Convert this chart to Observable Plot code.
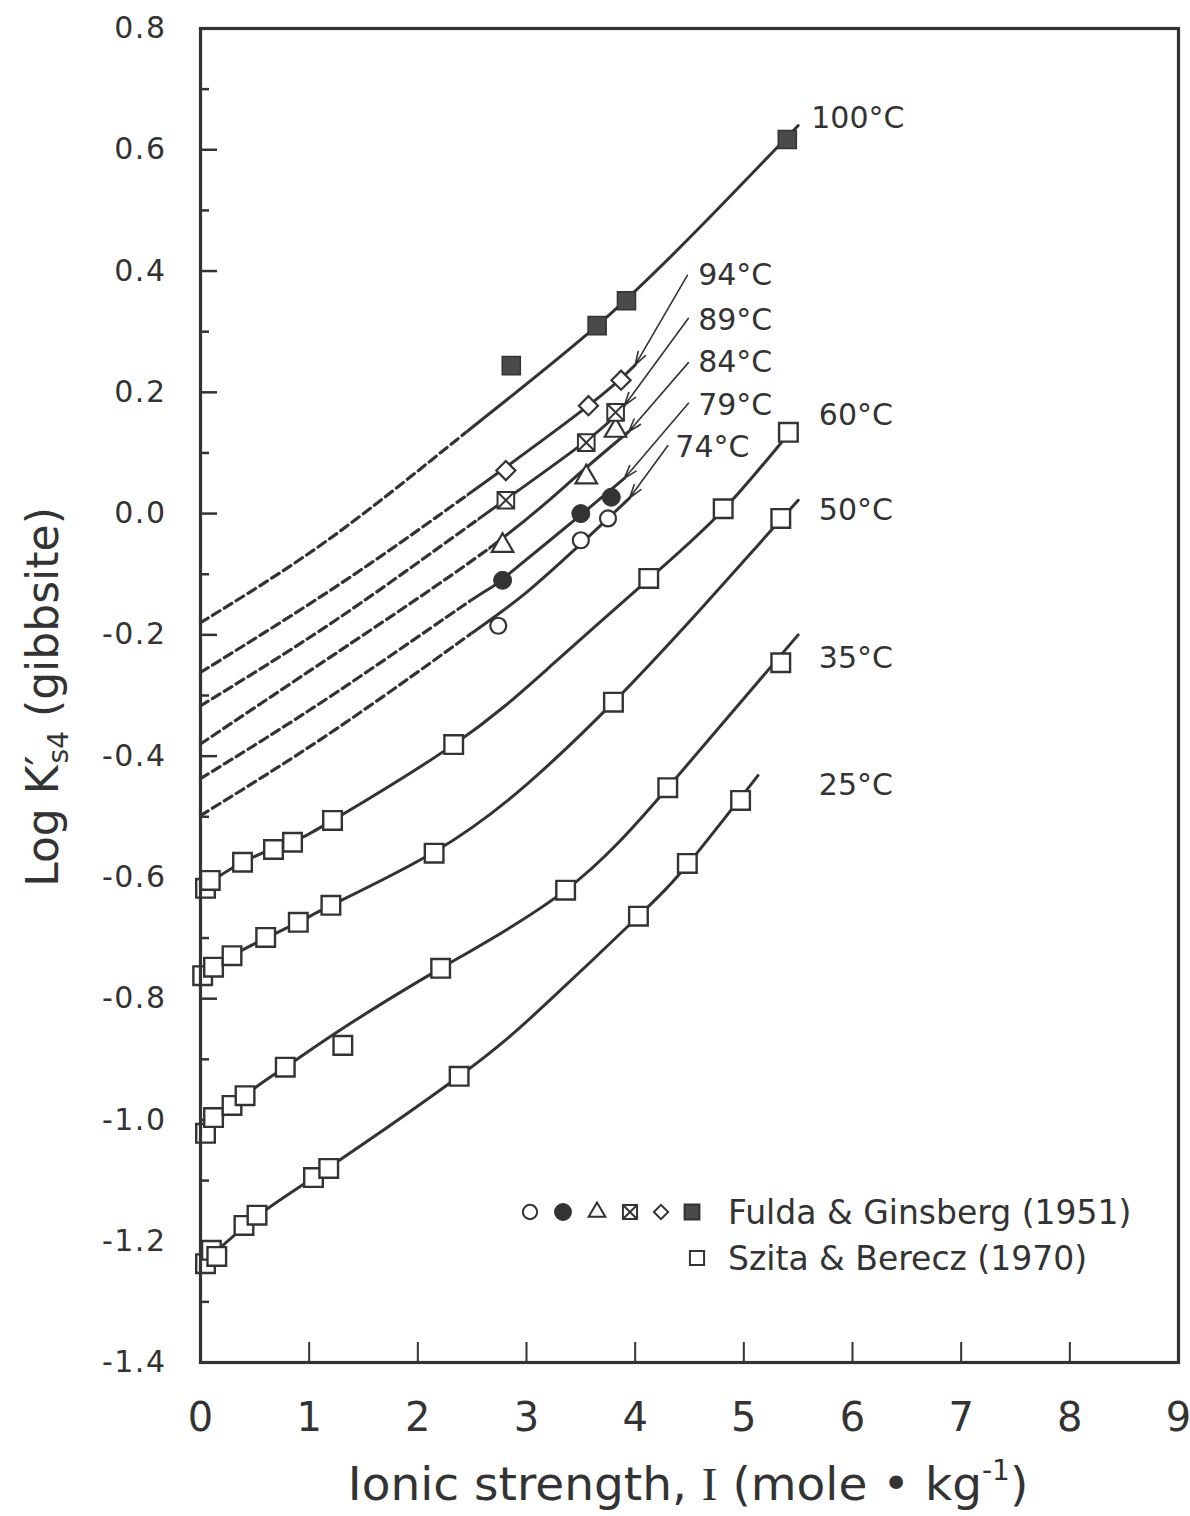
<!DOCTYPE html>
<html><head><meta charset="utf-8">
<script src="https://cdn.jsdelivr.net/npm/d3@7"></script>
<script src="https://cdn.jsdelivr.net/npm/@observablehq/plot@0.6"></script>
<style>html,body{margin:0;padding:0;background:#fff;} #chart svg{display:block;}</style>
</head><body><div id="chart"></div>
<script>
// ---------- DATA ----------
// Szita & Berecz (1970) — open squares
const sz25_I = [0.046, 0.10, 0.15, 0.40, 0.52, 1.04, 1.18, 2.38, 4.03, 4.48, 4.97];
const sz25_K = [-1.237, -1.215, -1.225, -1.174, -1.157, -1.095, -1.080, -0.928, -0.664, -0.577, -0.473];
const sz35_I = [0.046, 0.12, 0.29, 0.41, 0.78, 1.31, 2.21, 3.36, 4.30, 5.34];
const sz35_K = [-1.022, -0.996, -0.976, -0.960, -0.913, -0.877, -0.750, -0.621, -0.452, -0.246];
const sz50_I = [0.02, 0.12, 0.29, 0.60, 0.90, 1.20, 2.15, 3.80, 5.34];
const sz50_K = [-0.762, -0.748, -0.729, -0.699, -0.674, -0.646, -0.560, -0.311, -0.008];
const sz60_I = [0.046, 0.09, 0.387, 0.672, 0.847, 1.215, 2.33, 4.125, 4.81, 5.41];
const sz60_K = [-0.618, -0.605, -0.575, -0.554, -0.542, -0.506, -0.381, -0.107, 0.008, 0.134];

// Fulda & Ginsberg (1951)
const fg74_I = [2.74, 3.50, 3.75];        const fg74_K = [-0.185, -0.044, -0.008];
const fg79_I = [2.78, 3.50, 3.78];        const fg79_K = [-0.110, 0.000, 0.027];
const fg84_I = [2.78, 3.55, 3.82];        const fg84_K = [-0.053, 0.060, 0.137];
const fg89_I = [2.81, 3.55, 3.82];        const fg89_K = [0.022, 0.117, 0.167];
const fg94_I = [2.81, 3.57, 3.87];        const fg94_K = [0.071, 0.178, 0.220];
const fg100_I = [2.86, 3.65, 3.92, 5.40]; const fg100_K = [0.244, 0.310, 0.351, 0.617];

// Fitted curves (knots); split = end of dashed extrapolation
const c25_I = [0, 0.5, 1.1, 2.38, 3.2, 4.03, 4.5, 5.13];
const c25_K = [-1.24, -1.162, -1.088, -0.928, -0.805, -0.664, -0.575, -0.432];
const c35_I = [0, 0.41, 0.78, 1.3, 2.21, 3.36, 4.30, 5.50];
const c35_K = [-1.03, -0.96, -0.913, -0.85, -0.75, -0.621, -0.452, -0.20];
const c50_I = [0, 0.29, 0.9, 1.2, 2.15, 3.0, 3.8, 4.6, 5.50];
const c50_K = [-0.77, -0.729, -0.674, -0.646, -0.558, -0.447, -0.311, -0.158, 0.022];
const c60_I = [0, 0.387, 0.85, 1.215, 2.33, 3.2, 4.125, 4.81, 5.45];
const c60_K = [-0.62, -0.575, -0.54, -0.506, -0.381, -0.255, -0.108, 0.006, 0.14];
const c74_I = [0, 1.25, 2.49, 3.0, 3.5, 3.95];
const c74_K = [-0.498, -0.355, -0.198, -0.13, -0.05, 0.026];
const c79_I = [0, 1.25, 2.49, 2.78, 3.50, 3.90];
const c79_K = [-0.437, -0.295, -0.143, -0.108, -0.002, 0.058];
const c84_I = [0, 1.25, 2.65, 3.41, 3.94];
const c84_K = [-0.38, -0.23, -0.058, 0.054, 0.135];
const c89_I = [0, 1.25, 2.55, 3.55, 3.90];
const c89_K = [-0.317, -0.175, -0.01, 0.12, 0.178];
const c94_I = [0, 1.25, 2.45, 3.57, 4.0];
const c94_K = [-0.262, -0.12, 0.03, 0.178, 0.245];
const c100_I = [0, 1.2, 2.45, 3.65, 4.6, 5.50];
const c100_K = [-0.18, -0.04, 0.135, 0.31, 0.473, 0.64];
const splits = {"25": 0, "35": 0, "50": 0, "60": 0, "74": 2.49, "79": 2.49, "84": 2.65, "89": 2.55, "94": 2.45, "100": 2.45};

// Curve labels
const labelText = ["100°C", "94°C", "89°C", "84°C", "79°C", "74°C", "60°C", "50°C", "35°C", "25°C"];
const labelI = [5.62, 4.58, 4.58, 4.58, 4.58, 4.37, 5.69, 5.69, 5.69, 5.69];
const labelK = [0.652, 0.393, 0.318, 0.249, 0.178, 0.109, 0.162, 0.005, -0.239, -0.448];

// Leader arrows (from label to curve end)
const arrowTemp = ["94", "89", "84", "79", "74"];
const arrowFromI = [4.48, 4.49, 4.49, 4.49, 4.30];
const arrowFromK = [0.393, 0.322, 0.249, 0.182, 0.112];

// Axis ticks
const yMajor = [0.8, 0.6, 0.4, 0.2, 0, -0.2, -0.4, -0.6, -0.8, -1.0, -1.2, -1.4];
const yMinor = [0.7, 0.5, 0.3, 0.1, -0.1, -0.3, -0.5, -0.7, -0.9, -1.1, -1.3];
const xTickLabels = [0, 1, 2, 3, 4, 5, 6, 7, 8, 9];
const xTicks = [1, 2, 3, 4, 5, 6, 7, 8];

// ---------- BUILD ----------
const INK = "#333";
const pts = (I, K) => I.map((x, i) => ({I: x, K: K[i]}));
const crossedSquare = {
  draw(ctx, size) {
    const s = Math.sqrt(size) / 2;
    ctx.moveTo(-s, -s); ctx.lineTo(s, -s); ctx.lineTo(s, s); ctx.lineTo(-s, s); ctx.closePath();
    ctx.moveTo(-s, -s); ctx.lineTo(s, s);
    ctx.moveTo(s, -s); ctx.lineTo(-s, s);
  }
};

const curves = {
  "25": pts(c25_I, c25_K), "35": pts(c35_I, c35_K), "50": pts(c50_I, c50_K), "60": pts(c60_I, c60_K),
  "74": pts(c74_I, c74_K), "79": pts(c79_I, c79_K), "84": pts(c84_I, c84_K),
  "89": pts(c89_I, c89_K), "94": pts(c94_I, c94_K), "100": pts(c100_I, c100_K)
};

// each high-temperature curve is drawn twice (dashed + solid) and clipped at its split
const lineSpecs = [];
for (const [t, data] of Object.entries(curves)) {
  const s = splits[t];
  if (s > 0) {
    lineSpecs.push({side: "left", s, mark: Plot.line(data, {x: "I", y: "K", curve: "natural",
      stroke: INK, strokeWidth: 3.2, strokeDasharray: "9,5"})});
    lineSpecs.push({side: "right", s, mark: Plot.line(data, {x: "I", y: "K", curve: "natural",
      stroke: INK, strokeWidth: 3})});
  } else {
    lineSpecs.push({side: null, s, mark: Plot.line(data, {x: "I", y: "K", curve: "natural",
      stroke: INK, strokeWidth: 3})});
  }
}

const arrows = arrowTemp.map((t, i) => {
  const c = curves[t]; const end = c[c.length - 1];
  return {x1: arrowFromI[i], y1: arrowFromK[i], x2: end.I, y2: end.K};
});

const labels = labelText.map((t, i) => ({t, I: labelI[i], K: labelK[i]}));

const W = 1190, H = 1516, mT = 28, mB = 154, mL = 200, mR = 12;
const frameW = W - mL - mR, frameH = H - mT - mB;

const szAll = [...pts(sz25_I, sz25_K), ...pts(sz35_I, sz35_K), ...pts(sz50_I, sz50_K), ...pts(sz60_I, sz60_K)];

const fig = Plot.plot({
  width: W, height: H,
  marginTop: mT, marginBottom: mB, marginLeft: mL, marginRight: mR,
  x: {domain: [0, 9]},
  y: {domain: [-1.4, 0.8]},
  style: {fontFamily: "DejaVu Sans", background: "#fff", color: INK},
  marks: [
    Plot.ruleY(yMajor, {stroke: INK, strokeWidth: 2.5, insetRight: frameW - 17}),
    Plot.ruleY(yMinor, {stroke: INK, strokeWidth: 2.5, insetRight: frameW - 9}),
    Plot.ruleX(xTicks, {stroke: INK, strokeWidth: 2, insetTop: frameH - 20}),
    Plot.axisY(yMajor, {tickSize: 0, tickPadding: 34, fontSize: 30, tickFormat: d => d.toFixed(1), label: null}),
    Plot.axisX(xTickLabels, {tickSize: 0, tickPadding: 40, fontSize: 40, tickFormat: d => String(d), label: null}),
    ...lineSpecs.map(d => d.mark),
    Plot.arrow(arrows, {x1: "x1", y1: "y1", x2: "x2", y2: "y2", stroke: INK, strokeWidth: 1.6, headLength: 13, headAngle: 35}),
    Plot.dot(szAll, {x: "I", y: "K", symbol: "square", r: 10.5, fill: "#fff", stroke: INK, strokeWidth: 2.4}),
    Plot.dot(pts(fg74_I, fg74_K), {x: "I", y: "K", symbol: "circle", r: 8, fill: "#fff", stroke: INK, strokeWidth: 2.2}),
    Plot.dot(pts(fg79_I, fg79_K), {x: "I", y: "K", symbol: "circle", r: 9, fill: INK, stroke: INK, strokeWidth: 1}),
    Plot.dot(pts(fg84_I, fg84_K), {x: "I", y: "K", symbol: "triangle", r: 8, fill: "#fff", stroke: INK, strokeWidth: 2.2}),
    Plot.dot(pts(fg89_I, fg89_K), {x: "I", y: "K", symbol: crossedSquare, r: 9.4, fill: "#fff", stroke: INK, strokeWidth: 2}),
    Plot.dot(pts(fg94_I, fg94_K), {x: "I", y: "K", symbol: "diamond2", r: 8.6, fill: "#fff", stroke: INK, strokeWidth: 2.2}),
    Plot.dot(pts(fg100_I, fg100_K), {x: "I", y: "K", symbol: "square", r: 10.2, fill: "#4a4a4a", stroke: INK, strokeWidth: 1.5}),
    Plot.text(labels, {x: "I", y: "K", text: "t", textAnchor: "start", fontSize: 30, fill: INK}),
    Plot.frame({stroke: INK, strokeWidth: 3.2})
  ]
});

const svg = d3.select(fig);
svg.selectAll('[aria-label="y-axis tick label"] text').attr("letter-spacing", 1.5);

// clip dashed / solid parts of each curve at the split
const xs = fig.scale("x");
const defs = svg.insert("defs", ":first-child");
const lineGroups = svg.selectAll('g[aria-label="line"]').nodes();
lineSpecs.forEach((spec, i) => {
  if (!spec.side) return;
  const px = xs.apply(spec.s);
  const id = "clip-" + i;
  const r = defs.append("clipPath").attr("id", id).append("rect").attr("y", 0).attr("height", H);
  if (spec.side === "left") r.attr("x", 0).attr("width", px);
  else r.attr("x", px).attr("width", W - px);
  d3.select(lineGroups[i]).attr("clip-path", `url(#${id})`);
});

// Axis titles
const yt = svg.append("text")
  .attr("transform", "translate(58,697) rotate(-90)")
  .attr("text-anchor", "middle").attr("font-family", "DejaVu Sans")
  .attr("font-size", 44).attr("fill", INK);
yt.append("tspan").text("Log K");
yt.append("tspan").text("′");
yt.append("tspan").text("s4").attr("font-size", 28).attr("dx", -8).attr("dy", 10);
yt.append("tspan").text(" (gibbsite)").attr("dy", -10);

const xt = svg.append("text")
  .attr("x", 688).attr("y", 1500)
  .attr("text-anchor", "middle").attr("font-family", "DejaVu Sans")
  .attr("font-size", 47).attr("fill", INK);
xt.append("tspan").text("Ionic strength, ");
xt.append("tspan").text("I").attr("font-family", "Liberation Serif");
xt.append("tspan").text(" (mole • kg");
xt.append("tspan").text("-1").attr("font-size", 28).attr("dy", -20);
xt.append("tspan").text(")").attr("dy", 20);

// Legend
const lg = svg.append("g").attr("stroke", INK);
const legendSyms = [
  {sym: d3.symbolCircle, size: 160, fill: "#fff", x: 530},
  {sym: d3.symbolCircle, size: 200, fill: INK, x: 563},
  {sym: d3.symbolTriangle, size: 120, fill: "#fff", x: 597},
  {sym: crossedSquare, size: 200, fill: "#fff", x: 630},
  {sym: d3.symbolDiamond2, size: 130, fill: "#fff", x: 661},
  {sym: d3.symbolSquare, size: 220, fill: "#4a4a4a", x: 692}
];
for (const s of legendSyms) {
  lg.append("path").attr("d", d3.symbol(s.sym, s.size)())
    .attr("transform", `translate(${s.x},1212)`).attr("fill", s.fill).attr("stroke-width", 2);
}
lg.append("path").attr("d", d3.symbol(d3.symbolSquare, 200)())
  .attr("transform", "translate(697,1258)").attr("fill", "#fff").attr("stroke-width", 2);
svg.append("text").attr("x", 728).attr("y", 1212).attr("dy", "0.36em")
  .attr("text-anchor", "start")
  .attr("font-family", "DejaVu Sans").attr("font-size", 33).attr("fill", INK)
  .text("Fulda & Ginsberg (1951)");
svg.append("text").attr("x", 728).attr("y", 1258).attr("dy", "0.36em")
  .attr("text-anchor", "start")
  .attr("font-family", "DejaVu Sans").attr("font-size", 33).attr("fill", INK)
  .text("Szita & Berecz (1970)");

document.getElementById("chart").appendChild(fig);
</script>
</body></html>
